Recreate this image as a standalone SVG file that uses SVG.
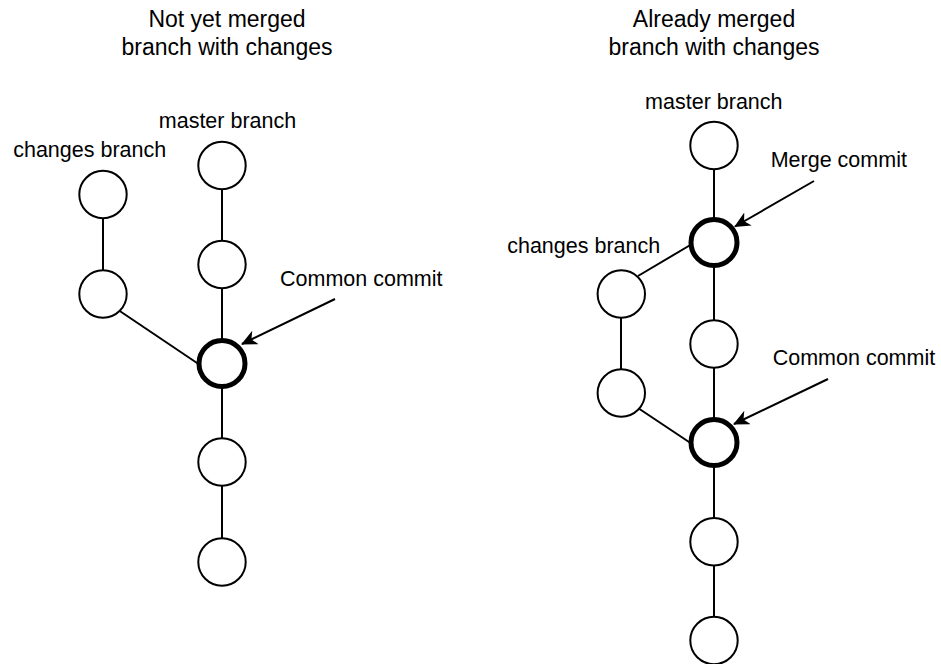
<svg xmlns="http://www.w3.org/2000/svg" width="941" height="664" viewBox="0 0 941 664">
<style>
text{font-family:"Liberation Sans",Arial,Helvetica,sans-serif;fill:#000}
.title{font-size:23px;text-anchor:middle}
.lbl{font-size:21.5px}
.mid{text-anchor:middle}
.c{fill:#fff;stroke:#000;stroke-width:2}
.ck{fill:#fff;stroke:#000;stroke-width:5}
.e{stroke:#000;stroke-width:2;fill:none}
</style>
<defs>
<marker id="ah" markerUnits="userSpaceOnUse" viewBox="0 0 16 15" refX="15" refY="7.5" markerWidth="16" markerHeight="15" orient="auto">
<path d="M16,7.5 L0,0 L4.5,7.5 L0,15 Z" fill="#000"/>
</marker>
</defs>
<rect width="941" height="664" fill="#fff"/>
<g id="titles">
<text class="title" x="227" y="27">Not yet merged</text>
<text class="title" x="227" y="54.5">branch with changes</text>
<text class="title" x="714" y="27">Already merged</text>
<text class="title" x="714" y="54.5">branch with changes</text>
</g>
<g id="connectors">
<line class="e" x1="222" y1="165" x2="222" y2="561"/>
<line class="e" x1="103" y1="194.5" x2="103" y2="294"/>
<line class="e" x1="119" y1="310.5" x2="200" y2="365"/>
<line class="e" x1="335" y1="299" x2="242" y2="344" marker-end="url(#ah)"/>
<line class="e" x1="714" y1="145" x2="714" y2="640"/>
<line class="e" x1="621" y1="294" x2="621" y2="393"/>
<line class="e" x1="638" y1="276" x2="692" y2="244"/>
<line class="e" x1="638" y1="408" x2="692" y2="444"/>
<line class="e" x1="814" y1="181" x2="735" y2="226.5" marker-end="url(#ah)"/>
<line class="e" x1="828" y1="379" x2="734" y2="424" marker-end="url(#ah)"/>
</g>
<g id="left-master-1"><circle class="c" cx="222" cy="165.5" r="23.7"/></g>
<g id="left-master-2"><circle class="c" cx="222" cy="264.5" r="23.7"/></g>
<g id="left-common"><circle class="ck" cx="222" cy="363.5" r="23"/></g>
<g id="left-master-4"><circle class="c" cx="222" cy="462" r="23.7"/></g>
<g id="left-master-5"><circle class="c" cx="222" cy="562" r="23.7"/></g>
<g id="left-changes-1"><circle class="c" cx="103" cy="194.5" r="23.7"/></g>
<g id="left-changes-2"><circle class="c" cx="103" cy="294" r="23.7"/></g>
<g id="right-master-1"><circle class="c" cx="714" cy="145.5" r="23.7"/></g>
<g id="right-merge"><circle class="ck" cx="714" cy="242.5" r="23"/></g>
<g id="right-master-3"><circle class="c" cx="714" cy="344" r="23.7"/></g>
<g id="right-common"><circle class="ck" cx="714" cy="442.5" r="23"/></g>
<g id="right-master-5"><circle class="c" cx="714" cy="541.7" r="23.7"/></g>
<g id="right-master-6"><circle class="c" cx="714" cy="640.5" r="23.7"/></g>
<g id="right-changes-1"><circle class="c" cx="621.3" cy="294" r="23.7"/></g>
<g id="right-changes-2"><circle class="c" cx="621.3" cy="393" r="23.7"/></g>
<g id="labels">
<text class="lbl mid" x="89.7" y="157">changes branch</text>
<text class="lbl mid" x="227.5" y="128">master branch</text>
<text class="lbl" x="280" y="286">Common commit</text>
<text class="lbl mid" x="713.8" y="108.5">master branch</text>
<text class="lbl" x="770.7" y="166.7">Merge commit</text>
<text class="lbl mid" x="583.7" y="252.7">changes branch</text>
<text class="lbl" x="772.7" y="365">Common commit</text>
</g>
</svg>
